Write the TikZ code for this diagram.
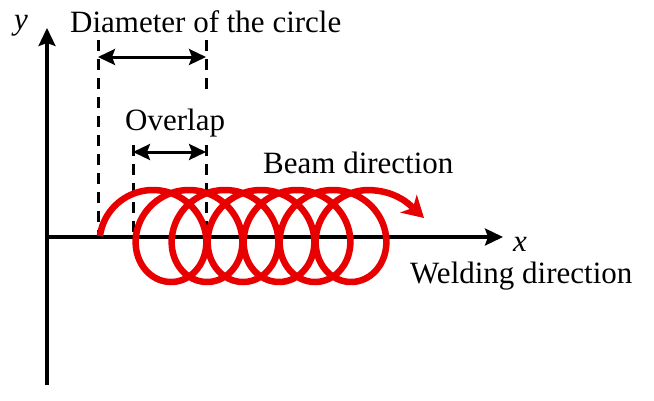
\documentclass[tikz,border=0pt]{standalone}
\usepackage{fontspec}
\setmainfont{Liberation Serif}
\usetikzlibrary{arrows.meta}
\definecolor{beamred}{RGB}{232,0,0}
\tikzstyle{txt} = [inner sep=0pt, font=\fontsize{31}{36}\selectfont]
\tikzstyle{axis} = [line width=3.2pt, -{Stealth[length=18pt, width=17pt, inset=3pt]}]
\tikzstyle{guide} = [line width=3pt, dash pattern=on 11pt off 8pt]
\tikzstyle{dimarrow} = [line width=3pt, {Stealth[length=17pt, width=16pt, inset=3pt]}-{Stealth[length=17pt, width=16pt, inset=3pt]}]
\tikzstyle{beam} = [beamred, line width=6.5pt, -{Stealth[length=21pt, width=24pt, inset=6pt]}]

\begin{document}
\begin{tikzpicture}[x=1pt, y=-1pt]
	\useasboundingbox (0,0) rectangle (654,400);
	% axes
	\coordinate (ybot) at (47,385);
	\coordinate (ytop) at (47,28);
	\coordinate (xleft) at (47,237);
	\coordinate (xright) at (503,237);
	\draw [axis] (ybot) -- (ytop);
	\draw [axis] (xleft) -- (xright);
	\node [txt, anchor=base west] at (14,29) (ylab) {\textit{y}};
	\node [txt, anchor=base west] at (513,251) (xlab) {\textit{x}};

	% guide lines
	\coordinate (dtopL) at (98,40);
	\coordinate (dbotL) at (98,237);
	\coordinate (dtopR) at (206,40);
	\coordinate (dmidR) at (206,93);
	\coordinate (otopL) at (133,145);
	\coordinate (obotL) at (133,237);
	\coordinate (otopR) at (206,145);
	\coordinate (obotR) at (206,237);
	\draw [guide] (dtopL) -- (dbotL);
	\draw [guide] (dtopR) -- (dmidR);
	\draw [guide] (otopL) -- (obotL);
	\draw [guide] (otopR) -- (obotR);

	% dimensions
	\coordinate (diamL) at (98,57);
	\coordinate (diamR) at (206,57);
	\coordinate (ovlL) at (133,152);
	\coordinate (ovlR) at (206,152);
	\draw [dimarrow] (diamL) -- (diamR);
	\draw [dimarrow] (ovlL) -- (ovlR);
	\node [txt, anchor=base west] at (70,32) (diam) {Diameter of the circle};
	\node [txt, anchor=base west] at (125,130) (ovl) {Overlap};

	% beam path
	\coordinate (beamend) at (424,218);
	\draw [beam] plot [domain=0:6.25, samples=500, smooth]
		({144+36*\x+44*cos(180-360*\x)}, {236-46*sin(180-360*\x)})
		.. controls (396,190) and (410,205) .. (beamend);
	\node [txt, anchor=base west] at (263,173) (beamdir) {Beam direction};
	\node [txt, anchor=base west] at (410,283) (weld) {Welding direction};
\end{tikzpicture}
\end{document}
